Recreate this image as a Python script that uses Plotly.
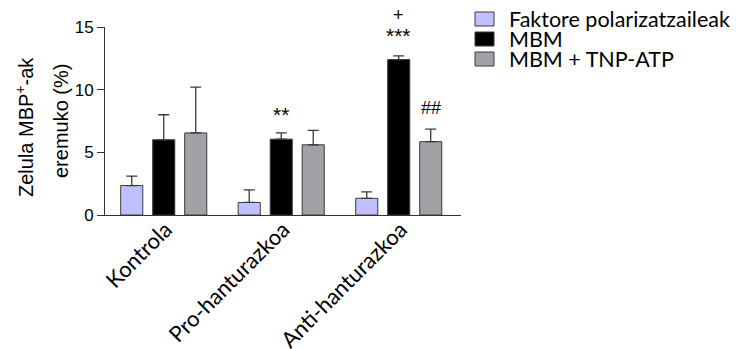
import plotly.graph_objects as go

categories = ["Kontrola", "Pro-hanturazkoa", "Anti-hanturazkoa"]
series_names = ["Faktore polarizatzaileak", "MBM", "MBM + TNP-ATP"]
factor_vals = [2.35, 1.0, 1.33]
factor_err = [0.75, 1.0, 0.52]
mbm_vals = [6.0, 6.05, 12.4]
mbm_err = [2.0, 0.5, 0.3]
tnp_vals = [6.55, 5.6, 5.85]
tnp_err = [3.65, 1.15, 1.0]
y_ticks = [0, 5, 10, 15]

colors = ["#c0c0ff", "#000000", "#a2a2a6"]
values = [factor_vals, mbm_vals, tnp_vals]
errors = [factor_err, mbm_err, tnp_err]

# page offset (default body margin) and plot area in window pixels
OFF = 8
L, R, T, B = 105, 461, 27, 215
W, H = R - L, B - T


def px(xp):
    return (xp - L) / W


def py(yp):
    return (B - yp) / H


fig = go.Figure()
for name, v, e, c in zip(series_names, values, errors, colors):
    fig.add_trace(go.Bar(
        x=categories, y=v, name=name, showlegend=False,
        marker=dict(color=c, line=dict(color="#3a3a3a", width=1)),
        error_y=dict(type="data", symmetric=False, array=e,
                     arrayminus=[0] * len(e), color="#3a3a3a",
                     thickness=1.3, width=5.5),
    ))

star_font = dict(family="Liberation Sans, Arial", size=21, color="#000")
sym_font = dict(family="Liberation Sans, Arial", size=18, color="#000")
fig.add_annotation(x=1, y=8.0, text="**", showarrow=False, font=star_font)
fig.add_annotation(x=2, y=14.3, text="***", showarrow=False, font=star_font)
fig.add_annotation(x=2, xref="x", yref="paper", y=py(3), text="+",
                   showarrow=False, font=sym_font)
fig.add_annotation(x=2.272, y=8.55, text="##", showarrow=False, font=sym_font)

title_font = dict(family="Liberation Sans, Arial", size=20, color="#000")
fig.add_annotation(xref="paper", yref="paper", x=px(24), xanchor="center",
                   y=py(127), yanchor="middle", text="Zelula MBP<sup>+</sup>-ak",
                   textangle=-90, showarrow=False, font=title_font)
fig.add_annotation(xref="paper", yref="paper", x=px(61), xanchor="center",
                   y=py(121), yanchor="middle", text="eremuko (%)",
                   textangle=-90, showarrow=False, font=title_font)

# manual legend
leg_font = dict(family="Lato", size=21.5, color="#000")
row_y = [19, 39, 59]
for name, c, ry in zip(series_names, colors, row_y):
    fig.add_shape(type="rect", xref="paper", yref="paper",
                  x0=px(475), x1=px(494), y0=py(ry + 7), y1=py(ry - 7),
                  fillcolor=c, line=dict(color="#3a3a3a", width=1))
    fig.add_annotation(xref="paper", yref="paper", x=px(507), xanchor="left",
                       y=py(ry), yanchor="middle", text=name,
                       showarrow=False, font=leg_font)

fig.update_layout(
    width=739 - OFF, height=349 - OFF,
    margin=dict(l=L - OFF, r=739 - R, t=T - OFF, b=349 - B, autoexpand=False),
    plot_bgcolor="white", paper_bgcolor="white",
    barmode="group", bargap=0.183, bargroupgap=0.31,
    xaxis=dict(range=[-0.5, 2.53], showline=True, linecolor="#333",
               linewidth=1, ticks="", tickangle=-45,
               ticklabelstandoff=-8, ticklabelshift=2,
               tickfont=dict(family="Lato", size=22, color="#000")),
    yaxis=dict(range=[0, 15], tickvals=y_ticks, showline=True,
               linecolor="#333", linewidth=1, ticks="outside", ticklen=7,
               tickcolor="#333", showgrid=False, zeroline=False,
               tickfont=dict(family="Liberation Sans, Arial", size=17, color="#000")),
)

fig.write_html("out.html")
